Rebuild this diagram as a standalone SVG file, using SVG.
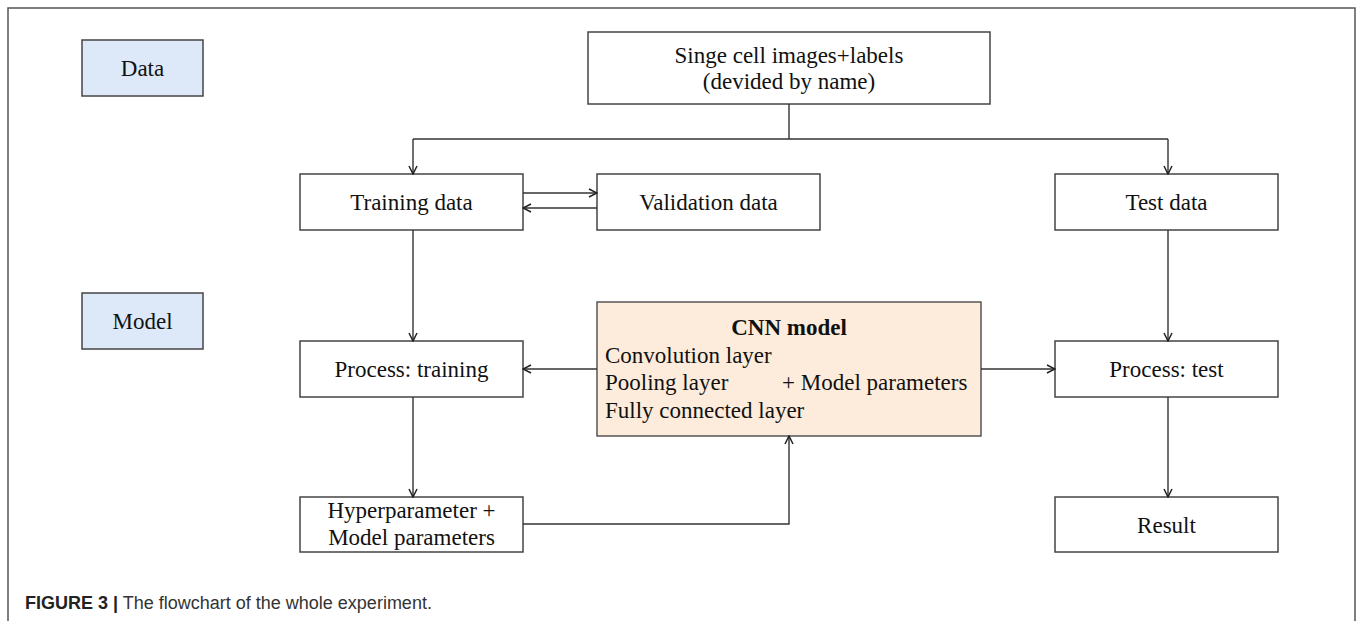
<svg xmlns="http://www.w3.org/2000/svg" width="1357" height="621" viewBox="0 0 1357 621">
<style>
.box{fill:#fff;stroke:#444;stroke-width:1.5}
.lbl{fill:#dde9f9;stroke:#444;stroke-width:1.5}
.cnn{fill:#fdecdb;stroke:#555;stroke-width:1.5}
.t{font-family:"Liberation Serif","Times New Roman",serif;font-size:23px;fill:#111}
.c{text-anchor:middle}
.ln{fill:none;stroke:#333;stroke-width:1.4}
.frame{fill:none;stroke:#555;stroke-width:1.5}
.cap{font-family:"Liberation Sans",Arial,sans-serif;font-size:18px;fill:#333}
</style>
<defs>
<marker id="ah" viewBox="0 0 10 10" refX="9" refY="5" markerWidth="10" markerHeight="10" markerUnits="userSpaceOnUse" orient="auto">
<path d="M1,1 L9,5 L1,9" fill="none" stroke="#222" stroke-width="1.5"/>
</marker>
</defs>
<rect width="1357" height="621" fill="#fff"/>
<path class="frame" d="M8,621 V8 H1355 V621"/>

<g id="data-label"><rect class="lbl" x="82" y="40" width="121" height="56"/><text class="t c" x="142.5" y="76">Data</text></g>
<g id="model-label"><rect class="lbl" x="82" y="293" width="121" height="56"/><text class="t c" x="142.5" y="329">Model</text></g>

<g id="source"><rect class="box" x="588" y="32" width="402" height="72"/>
<text class="t c" x="789" y="63">Singe cell images+labels</text>
<text class="t c" x="789" y="89">(devided by name)</text></g>

<g id="training-data"><rect class="box" x="300" y="174" width="223" height="56"/><text class="t c" x="411.5" y="210">Training data</text></g>
<g id="validation-data"><rect class="box" x="597" y="174" width="223" height="56"/><text class="t c" x="708.5" y="210">Validation data</text></g>
<g id="test-data"><rect class="box" x="1055" y="174" width="223" height="56"/><text class="t c" x="1166.5" y="210">Test data</text></g>

<g id="process-training"><rect class="box" x="300" y="341" width="223" height="56"/><text class="t c" x="411.5" y="377">Process: training</text></g>
<g id="process-test"><rect class="box" x="1055" y="341" width="223" height="56"/><text class="t c" x="1166.5" y="377">Process: test</text></g>

<g id="cnn-model"><rect class="cnn" x="597" y="302" width="384" height="134"/>
<text class="t c" x="789" y="335" font-weight="bold">CNN model</text>
<text class="t" x="605" y="363">Convolution layer</text>
<text class="t" x="605" y="390">Pooling layer</text>
<text class="t" x="782" y="390">+ Model parameters</text>
<text class="t" x="605" y="418">Fully connected layer</text></g>

<g id="hyperparameters"><rect class="box" x="300" y="497" width="223" height="55"/>
<text class="t c" x="411.5" y="518">Hyperparameter +</text>
<text class="t c" x="411.5" y="545">Model parameters</text></g>

<g id="result"><rect class="box" x="1055" y="497" width="223" height="55"/><text class="t c" x="1166.5" y="533">Result</text></g>

<g id="connectors">
<path class="ln" d="M789,104 V139"/>
<path class="ln" d="M413,139 H1168"/>
<path class="ln" d="M413,139 V174" marker-end="url(#ah)"/>
<path class="ln" d="M1168,139 V174" marker-end="url(#ah)"/>
<path class="ln" d="M523,193 H597" marker-end="url(#ah)"/>
<path class="ln" d="M597,208 H523" marker-end="url(#ah)"/>
<path class="ln" d="M413,230 V341" marker-end="url(#ah)"/>
<path class="ln" d="M413,397 V497" marker-end="url(#ah)"/>
<path class="ln" d="M1168,230 V341" marker-end="url(#ah)"/>
<path class="ln" d="M1168,397 V497" marker-end="url(#ah)"/>
<path class="ln" d="M597,369 H523" marker-end="url(#ah)"/>
<path class="ln" d="M981,369 H1055" marker-end="url(#ah)"/>
<path class="ln" d="M523,524 H789 V436" marker-end="url(#ah)"/>
</g>

<text class="cap" x="25" y="609"><tspan font-weight="bold" fill="#222">FIGURE 3 |</tspan> The flowchart of the whole experiment.</text>
</svg>
